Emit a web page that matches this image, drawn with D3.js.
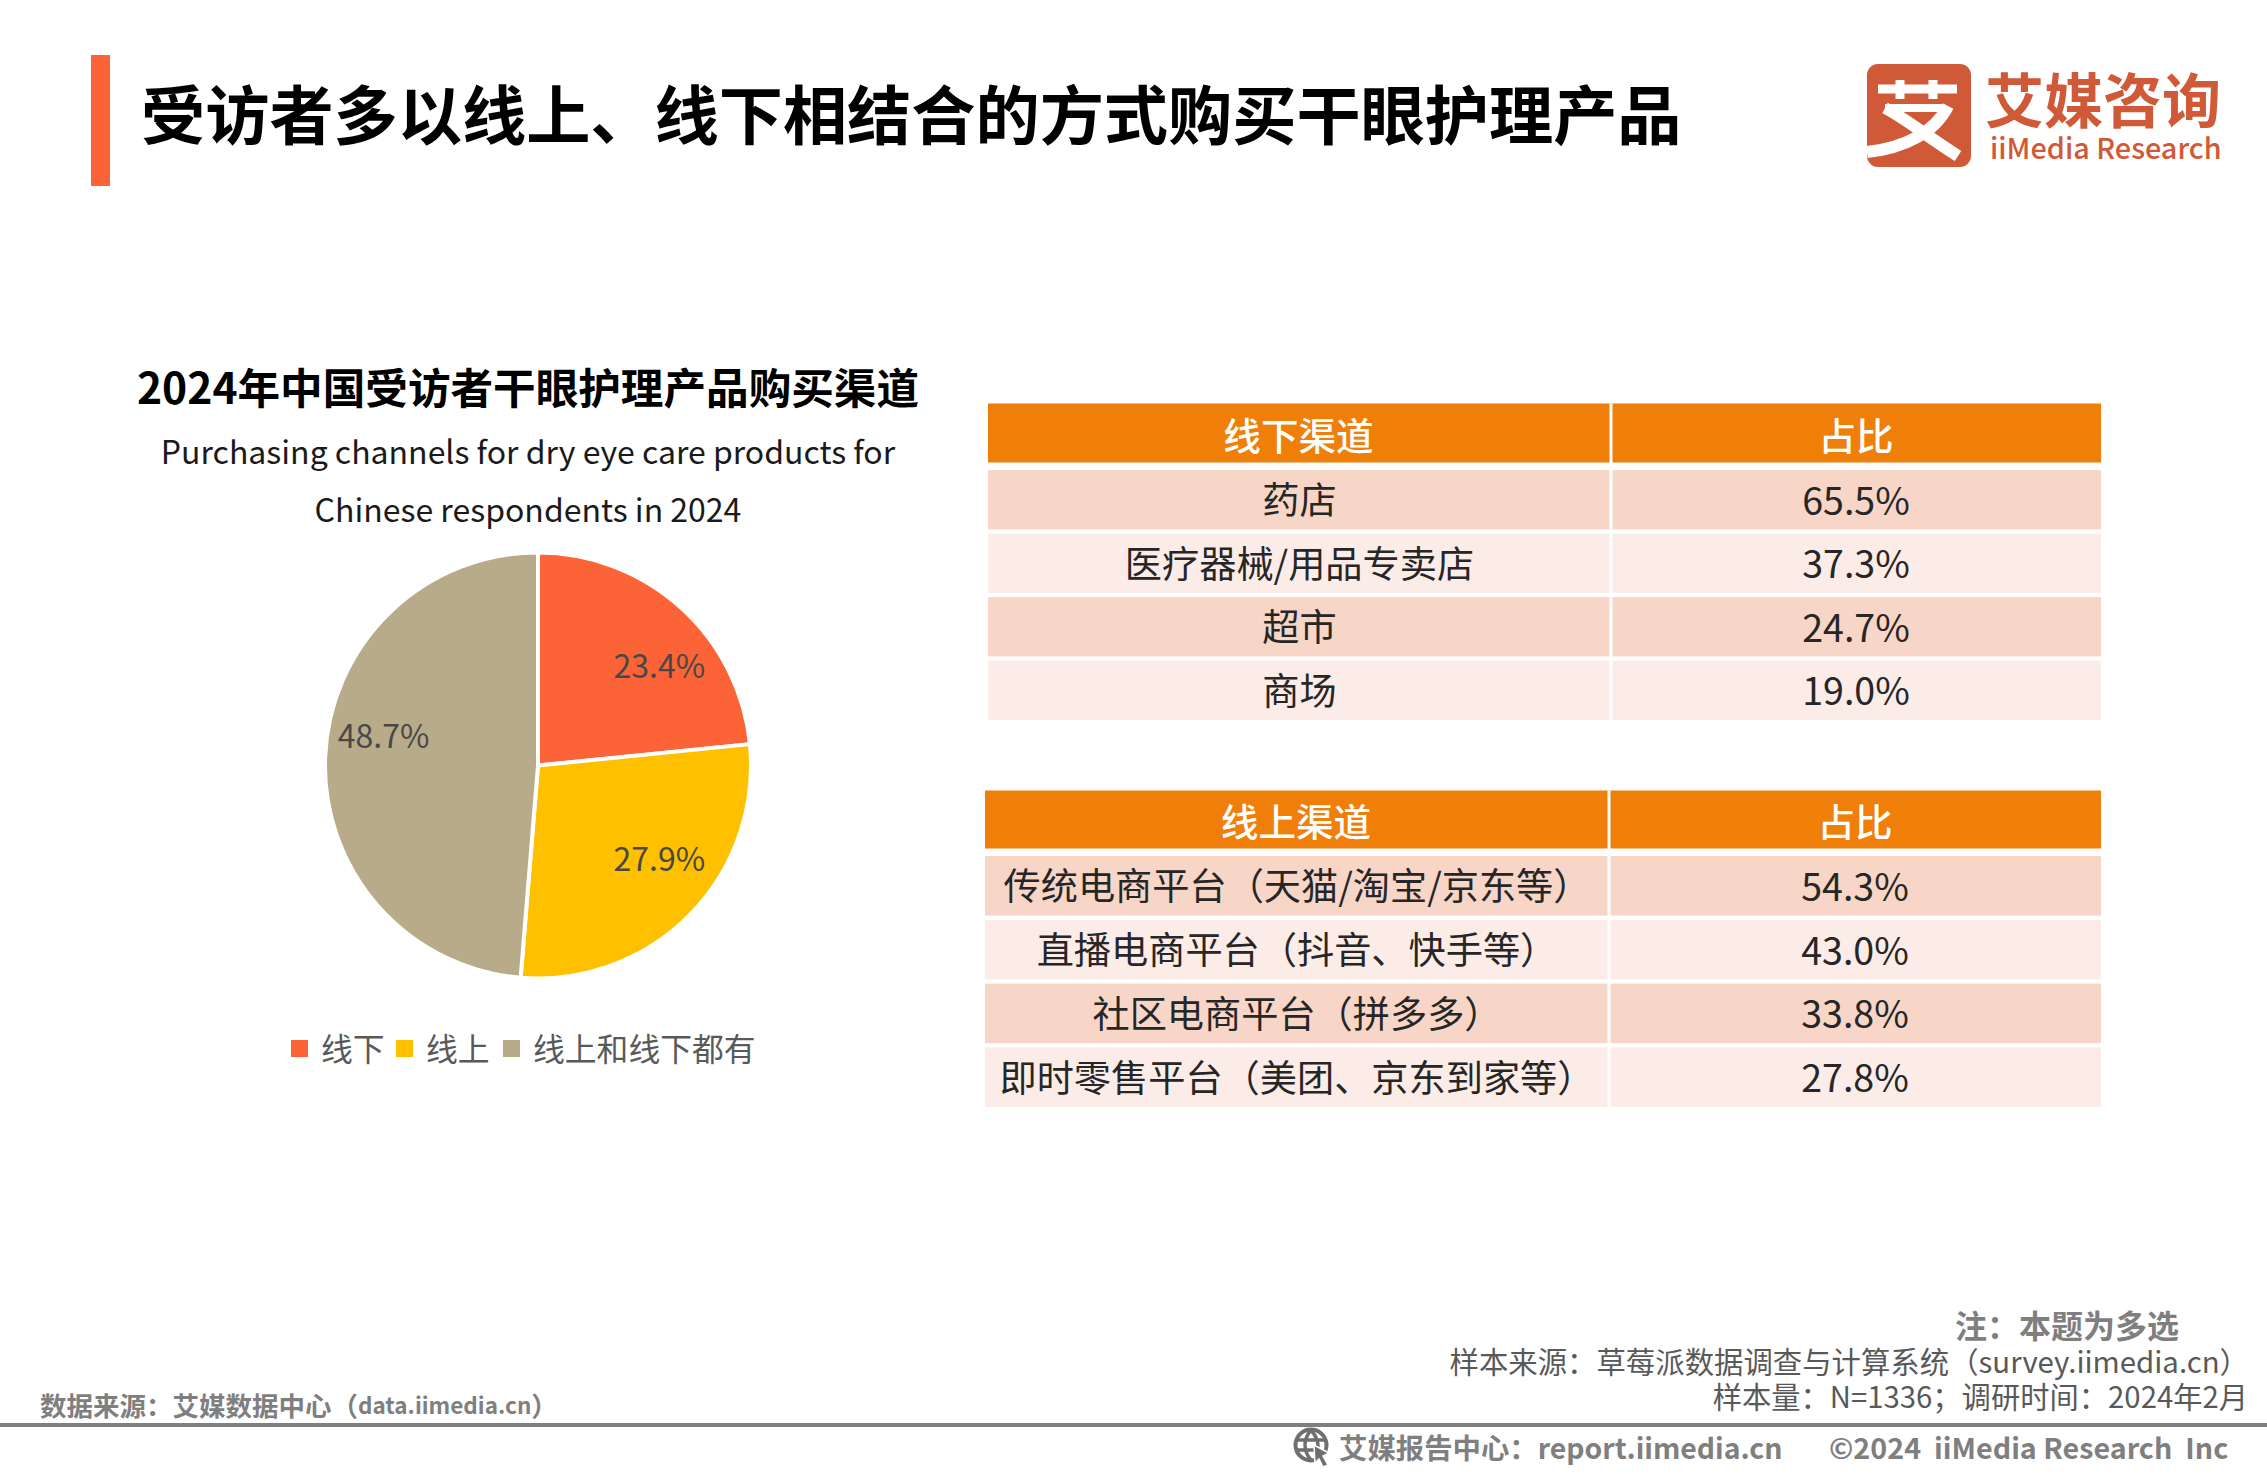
<!DOCTYPE html>
<html lang="zh-CN">
<head>
<meta charset="utf-8">
<title>受访者多以线上、线下相结合的方式购买干眼护理产品</title>
<script src="https://cdn.jsdelivr.net/npm/d3@7/dist/d3.min.js"></script>
<style>
html,body{margin:0;padding:0;background:#fff;overflow:hidden}
svg{display:block}
text{font-family:"Noto Sans CJK SC","Noto Sans",sans-serif}
</style>
</head>
<body>
<svg id="chart" width="2267" height="1474" viewBox="0 0 2267 1474"></svg>
<script>
const pageTitle = "受访者多以线上、线下相结合的方式购买干眼护理产品";
const chartTitle = "2024年中国受访者干眼护理产品购买渠道";
const chartSubtitle = ["Purchasing channels for dry eye care products for", "Chinese respondents in 2024"];
const pieCategories = ["线下", "线上", "线上和线下都有"];
const pieValues = [23.4, 27.9, 48.7];
const pieColors = ["#FC6336", "#FFC000", "#B8AB8A"];
const offlineHeader = ["线下渠道", "占比"];
const offlineChannels = ["药店", "医疗器械/用品专卖店", "超市", "商场"];
const offlineShares = [65.5, 37.3, 24.7, 19.0];
const onlineHeader = ["线上渠道", "占比"];
const onlineChannels = ["传统电商平台（天猫/淘宝/京东等）", "直播电商平台（抖音、快手等）", "社区电商平台（拼多多）", "即时零售平台（美团、京东到家等）"];
const onlineShares = [54.3, 43.0, 33.8, 27.8];

const svg = d3.select("#chart");
const pct = v => v.toFixed(1) + "%";

function put(parent, str, x, y, size, opts = {}) {
  return parent.append("text")
    .attr("x", x).attr("y", y)
    .attr("font-size", size)
    .attr("font-weight", opts.weight || 400)
    .attr("fill", opts.fill || "#000")
    .attr("text-anchor", opts.anchor || "middle")
    .attr("dominant-baseline", "central")
    .text(str);
}

/* header */
svg.append("rect").attr("x", 91).attr("y", 55).attr("width", 19).attr("height", 131).attr("fill", "#FC6336");
put(svg, pageTitle, 141, 111, 64.2, {anchor: "start", weight: 700});

/* logo */
const logo = svg.append("g").attr("class", "logo");
const logoRed = "#D05A38";
logo.append("rect").attr("x", 1867).attr("y", 64).attr("width", 104).attr("height", 103).attr("rx", 11).attr("fill", logoRed);
const mark = logo.append("g").attr("fill", "none").attr("stroke", "#fff").attr("stroke-width", 9);
mark.append("path").attr("d", "M1878 89H1957M1900 80V99M1933 80V99");
mark.append("path").attr("d", "M1885 108C1905 118 1925 135 1958 156").attr("stroke-width", 12);
mark.append("path").attr("d", "M1885 108H1945").attr("stroke-width", 8);
mark.append("path").attr("d", "M1948 106C1935 132 1905 148 1867 152").attr("stroke-width", 12);
put(logo, "艾媒咨询", 1985, 97, 59, {anchor: "start", weight: 700, fill: logoRed});
put(logo, "iiMedia Research", 1990, 146, 28.8, {anchor: "start", weight: 500, fill: logoRed});

/* pie */
put(svg, chartTitle, 528, 385, 42.6, {weight: 700});
put(svg, chartSubtitle[0], 528, 449.5, 32, {fill: "#1a1a1a"});
put(svg, chartSubtitle[1], 528, 507.5, 32, {fill: "#1a1a1a"});

const pieCx = 538, pieCy = 765.5, pieR = 213;
const pieG = svg.append("g").attr("transform", `translate(${pieCx},${pieCy})`);
const pieData = d3.pie().sort(null)(pieValues);
const arc = d3.arc().innerRadius(0).outerRadius(pieR);
const color = d3.scaleOrdinal(pieCategories, pieColors);
pieG.selectAll("path").data(pieData).join("path")
  .attr("d", arc)
  .attr("fill", (d, i) => color(pieCategories[i]))
  .attr("stroke", "#fff").attr("stroke-width", 4);
/* label placement as in the reference: polar offset from the pie centre */
const labelPolar = [[50, 158.5], [127, 152], [281.5, 157.5]];
pieData.forEach((d, i) => {
  const a = labelPolar[i][0] * Math.PI / 180, r = labelPolar[i][1];
  put(pieG, pct(pieValues[i]), r * Math.sin(a), -r * Math.cos(a), 32, {fill: "#484848"});
});

/* legend */
const legendSwatchX = [291, 396, 503];
pieCategories.forEach((c, i) => {
  svg.append("rect").attr("x", legendSwatchX[i]).attr("y", 1040).attr("width", 17).attr("height", 17).attr("fill", color(c));
  put(svg, c, legendSwatchX[i] + 30, 1046.5, 31.8, {anchor: "start", fill: "#595959"});
});

/* tables */
function drawTable(header, channels, shares, box) {
  const g = svg.append("g");
  const cols = d3.scaleOrdinal(["a", "b"], [[box.x0, box.xm], [box.xm, box.x1]]);
  const rows = d3.scaleBand().domain(channels).range([box.rowTop, box.rowBottom]).paddingInner(0.065);
  [["a", header[0]], ["b", header[1]]].forEach(([k, label]) => {
    const [l, r] = cols(k);
    g.append("rect").attr("x", l).attr("y", box.headTop).attr("width", r - l).attr("height", box.headH).attr("fill", "#F07F09");
    put(g, label, (l + r) / 2 - (k === "a" ? 1 : 0), box.headTop + box.headH / 2, 37.6, {fill: "#fff", weight: 500});
  });
  channels.forEach((c, i) => {
    const fill = i % 2 === 0 ? "#F7D6C8" : "#FBECE8";
    [["a", c, 37.2], ["b", pct(shares[i]), 37.6]].forEach(([k, label, fs]) => {
      const [l, r] = cols(k);
      g.append("rect").attr("x", l).attr("y", rows(c)).attr("width", r - l).attr("height", rows.bandwidth()).attr("fill", fill);
      put(g, label, (l + r) / 2, rows(c) + rows.bandwidth() / 2 - 1.5, fs, {fill: "#262626"});
    });
  });
  g.append("line").attr("x1", box.xm).attr("x2", box.xm).attr("y1", box.headTop).attr("y2", box.rowBottom)
    .attr("stroke", "#fff").attr("stroke-width", 3);
}
drawTable(offlineHeader, offlineChannels, offlineShares, {x0: 988, xm: 1611, x1: 2101, headTop: 403.5, headH: 59, rowTop: 470, rowBottom: 720});
drawTable(onlineHeader, onlineChannels, onlineShares, {x0: 985, xm: 1609, x1: 2101, headTop: 790.5, headH: 58, rowTop: 856, rowBottom: 1107});

/* footer */
const grey = "#7F7F7F";
svg.append("rect").attr("x", 0).attr("y", 1423).attr("width", 2267).attr("height", 4).attr("fill", grey);
const srcText = put(svg, "", 40, 1404, 26.5, {anchor: "start", weight: 700, fill: grey});
srcText.append("tspan").text("数据来源：艾媒数据中心（");
srcText.append("tspan").attr("font-size", 22.5).text("data.iimedia.cn");
srcText.append("tspan").text("）");
put(svg, "注：本题为多选", 1955, 1324, 32, {anchor: "start", weight: 700, fill: grey});
put(svg, "样本来源：草莓派数据调查与计算系统（survey.iimedia.cn）", 2249, 1360, 29.4, {anchor: "end", fill: "#595959"});
put(svg, "样本量：N=1336；调研时间：2024年2月", 2248, 1395, 29.3, {anchor: "end", fill: "#595959"});

const globe = svg.append("g").attr("fill", "none").attr("stroke", "#6f6f6f").attr("stroke-width", 3.5);
globe.append("circle").attr("cx", 1311).attr("cy", 1445).attr("r", 15.5).attr("stroke-width", 4);
globe.append("path").attr("d", "M1297 1440H1325M1297 1450H1318M1311 1430C1303 1439 1303 1451 1311 1460M1311 1430C1319 1439 1319 1447 1317 1453");
globe.append("path").attr("d", "M1314 1445L1329 1453L1323 1456L1328 1465L1323 1467L1319 1459L1315 1463Z").attr("fill", "#6f6f6f").attr("stroke", "#fff").attr("stroke-width", 1.5);
put(svg, "艾媒报告中心：report.iimedia.cn", 1339, 1446, 28.4, {anchor: "start", weight: 700, fill: grey});
put(svg, "©2024  iiMedia Research  Inc", 1829, 1446, 28.7, {anchor: "start", weight: 700, fill: grey}).style("white-space", "pre");
</script>
</body>
</html>
